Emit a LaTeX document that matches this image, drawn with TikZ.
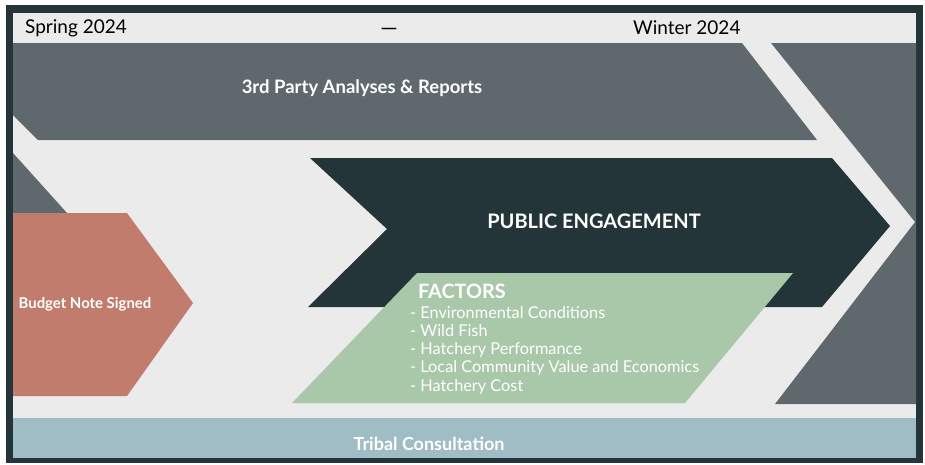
\documentclass[tikz,border=0pt]{standalone}
\usepackage{fontspec}
\setmainfont{Lato}
\definecolor{frame}{HTML}{243539}
\definecolor{slate}{HTML}{5F696D}
\definecolor{paper}{HTML}{EBEBEB}
\definecolor{brick}{HTML}{C17C6D}
\definecolor{sage}{HTML}{A9C8A9}
\definecolor{mist}{HTML}{A0BCC4}
\tikzset{
  lbl/.style={inner sep=0pt, text=white, font=\bfseries},
  hdr/.style={inner sep=0pt, text=black, font=\fontsize{19}{22}\selectfont},
  item/.style={inner sep=0pt, anchor=west, text=white, font=\fontsize{16.3}{18}\selectfont},
}
\begin{document}
\begin{tikzpicture}[x=1pt,y=-1pt]
\useasboundingbox (0,0) rectangle (925,464);
\fill[white] (0,0) rectangle (925,464);
% frame and paper
\fill[frame] (6,5) rectangle (923,463);
\fill[paper] (13,13) rectangle (916,458);
% 3rd party band
\fill[slate] (13,43) -- (742,43) -- (817,140) -- (38,140) -- (13,115) -- cycle;
% left gray triangle
\fill[slate] (13,153) -- (67,213) -- (13,213) -- cycle;
% right gray notched shape
\fill[slate] (771,43) -- (916,43) -- (916,404) -- (775,404) -- (915,222) -- cycle;
% public engagement chevron
\fill[frame] (310,158) -- (832,158) -- (890,226) -- (822,307) -- (308,307) -- (387,229) -- cycle;
% budget note pentagon
\fill[brick] (13,213) -- (127,213) -- (193,303) -- (127,396) -- (13,396) -- cycle;
% factors parallelogram
\fill[sage] (417,273) -- (793,273) -- (685,403) -- (292,403) -- cycle;
% tribal band
\fill[mist] (13,418) rectangle (916,458);
% header texts
\node[hdr, anchor=west] (spring) at (25,28) {Spring 2024};
\node[hdr, font=\fontsize{22}{24}\selectfont] (dash) at (389,32) {—};
\node[hdr, anchor=west] (winter) at (633,28) {Winter 2024};
% labels
\node[lbl, font=\bfseries\fontsize{18.5}{21}\selectfont] (third) at (362,88) {3rd Party Analyses \& Reports};
\node[lbl, font=\bfseries\fontsize{20}{23}\selectfont] (public) at (594,221) {PUBLIC ENGAGEMENT};
\node[lbl, font=\bfseries\fontsize{14.9}{17}\selectfont] (budget) at (85,304) {Budget Note Signed};
\node[lbl, anchor=west, font=\bfseries\fontsize{19.8}{22}\selectfont] (factors) at (418,291) {FACTORS};
\node[item] (f1) at (410,313) {- Environmental Conditions};
\node[item] (f2) at (410,331) {- Wild Fish};
\node[item] (f3) at (410,350) {- Hatchery Performance};
\node[item] (f4) at (410,368) {- Local Community Value and Economics};
\node[item] (f5) at (410,387) {- Hatchery Cost};
\node[lbl, font=\bfseries\fontsize{18}{21}\selectfont] (tribal) at (429,444) {Tribal Consultation};
\end{tikzpicture}
\end{document}
